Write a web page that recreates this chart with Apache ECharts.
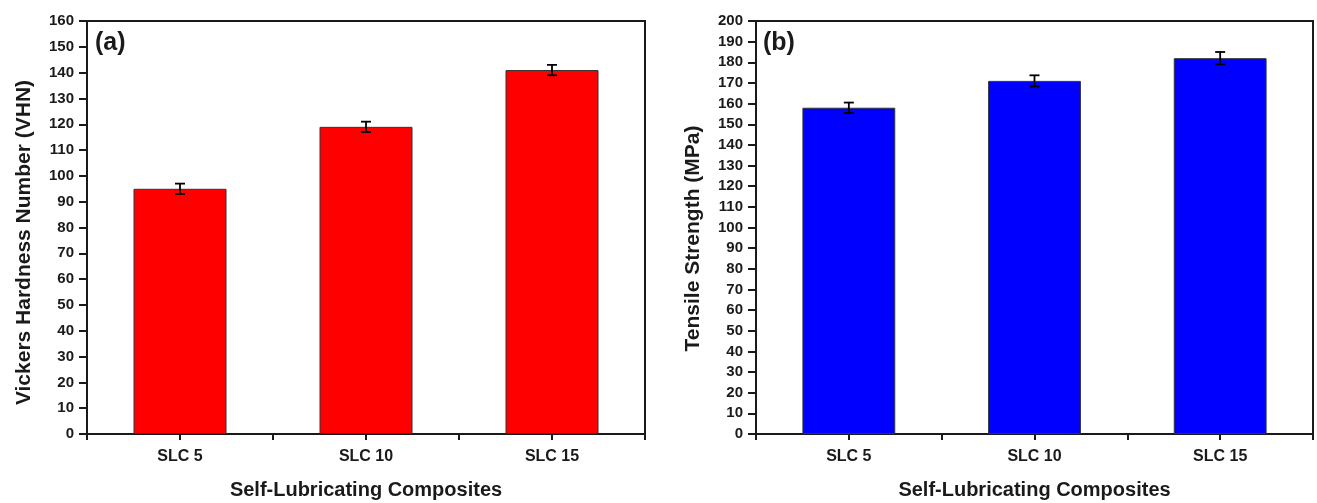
<!DOCTYPE html>
<html>
<head>
<meta charset="utf-8">
<script src="https://cdn.jsdelivr.net/npm/echarts@6/dist/echarts.min.js"></script>
<style>
  html, body { margin: 0; padding: 0; background: #fff; }
  #chart { width: 1317px; height: 503px; }
</style>
</head>
<body>
<div id="chart"></div>
<script>
// Composites and their measured properties
const categories = ['SLC 5', 'SLC 10', 'SLC 15'];
const hardness = [95, 119, 141];          // Vickers hardness (VHN)
const hardnessErr = [2, 2, 2];
const tensile = [158, 171, 182];          // Tensile strength (MPa)
const tensileErr = [2.5, 2.7, 3];

const FONT = 'Arial, "Liberation Sans", sans-serif';
const INK = '#1a1a1a';

function errorData(vals, errs) {
  return vals.map((v, i) => [i, v - errs[i], v + errs[i]]);
}

function renderError(params, api) {
  const i = api.value(0);
  const lo = api.coord([i, api.value(1)]);
  const hi = api.coord([i, api.value(2)]);
  const cap = 5;
  const style = { stroke: '#000', lineWidth: 1.8 };
  return {
    type: 'group',
    children: [
      { type: 'line', shape: { x1: hi[0], y1: hi[1], x2: lo[0], y2: lo[1] }, style },
      { type: 'line', shape: { x1: hi[0] - cap, y1: hi[1], x2: hi[0] + cap, y2: hi[1] }, style },
      { type: 'line', shape: { x1: lo[0] - cap, y1: lo[1], x2: lo[0] + cap, y2: lo[1] }, style }
    ]
  };
}

function xAxes(gridIndex) {
  return [
    {
      type: 'category', gridIndex, data: categories,
      name: 'Self-Lubricating Composites', nameLocation: 'middle', nameGap: 46,
      nameTextStyle: { fontFamily: FONT, fontWeight: 'bold', fontSize: 20, color: INK },
      axisLine: { lineStyle: { color: INK, width: 2 } },
      axisTick: { show: true, inside: false, length: 6, lineStyle: { color: INK, width: 2 } },
      axisLabel: { fontFamily: FONT, fontWeight: 'bold', fontSize: 16, color: INK, margin: 15 },
      splitLine: { show: false }
    },
    {
      // centre ticks under each bar
      type: 'category', gridIndex, data: categories, position: 'bottom',
      axisLine: { show: false },
      axisTick: { show: true, alignWithLabel: true, length: 6, lineStyle: { color: INK, width: 2 } },
      axisLabel: { show: false },
      splitLine: { show: false }
    }
  ];
}

// shift: moves the rotated axis title down the page by that many pixels
function yAxis(gridIndex, name, max, shift) {
  return {
    type: 'value', gridIndex, min: 0, max, interval: 10,
    name, nameLocation: 'middle', nameGap: 52,
    nameTextStyle: {
      fontFamily: FONT, fontWeight: 'bold', fontSize: 21, color: INK,
      padding: [0, shift * 2, 0, 0]
    },
    axisLine: { show: true, lineStyle: { color: INK, width: 2 } },
    axisTick: { show: true, length: 8, lineStyle: { color: INK, width: 2 } },
    axisLabel: { fontFamily: FONT, fontWeight: 'bold', fontSize: 15, color: INK, margin: 13 },
    splitLine: { show: false }
  };
}

const gridBase = {
  top: 21, height: 413, show: true, borderColor: INK, borderWidth: 2,
  backgroundColor: 'transparent', outerBoundsMode: 'none', containLabel: false
};

const chart = echarts.init(document.getElementById('chart'));
chart.setOption({
  backgroundColor: '#fff',
  animation: false,
  grid: [
    Object.assign({ left: 87, width: 558 }, gridBase),
    Object.assign({ left: 756, width: 557 }, gridBase)
  ],
  xAxis: [...xAxes(0), ...xAxes(1)],
  yAxis: [
    yAxis(0, 'Vickers Hardness Number (VHN)', 160, 15),
    yAxis(1, 'Tensile Strength (MPa)', 200, 11)
  ],
  graphic: [
    { type: 'text', left: 95, top: 31, style: { text: '(a)', font: 'bold 25px ' + FONT, fill: INK } },
    { type: 'text', left: 763, top: 31, style: { text: '(b)', font: 'bold 25px ' + FONT, fill: INK } }
  ],
  series: [
    {
      type: 'bar', xAxisIndex: 0, yAxisIndex: 0, data: hardness, barWidth: '50%',
      itemStyle: { color: '#ff0000', borderColor: '#333', borderWidth: 1 }
    },
    {
      type: 'custom', xAxisIndex: 0, yAxisIndex: 0, renderItem: renderError,
      data: errorData(hardness, hardnessErr), z: 5
    },
    {
      type: 'bar', xAxisIndex: 2, yAxisIndex: 1, data: tensile, barWidth: '50%',
      itemStyle: { color: '#0000ff', borderColor: '#333', borderWidth: 1 }
    },
    {
      type: 'custom', xAxisIndex: 2, yAxisIndex: 1, renderItem: renderError,
      data: errorData(tensile, tensileErr), z: 5
    }
  ]
});
</script>
</body>
</html>
